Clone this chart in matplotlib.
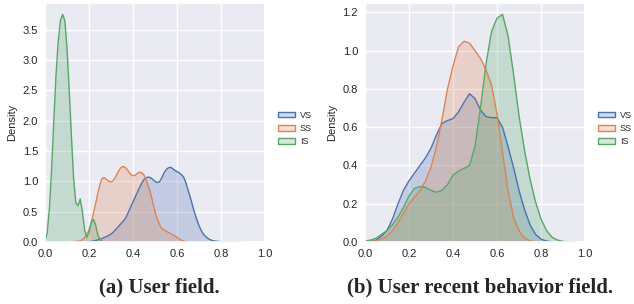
import numpy as np
import matplotlib
matplotlib.use("Agg")
import matplotlib.pyplot as plt
import seaborn as sns
from matplotlib.patches import Patch

# values (x, density)
user_x = [0.0, 0.01, 0.02, 0.03, 0.04, 0.05, 0.06, 0.07, 0.08, 0.09, 0.10, 0.11, 0.12, 0.13,
          0.14, 0.15, 0.16, 0.17, 0.18, 0.19, 0.20, 0.21, 0.22, 0.23, 0.24, 0.25, 0.26, 0.27,
          0.28, 0.29, 0.30, 0.31, 0.32, 0.33, 0.34, 0.35, 0.36, 0.37, 0.38, 0.39, 0.40, 0.41,
          0.42, 0.43, 0.44, 0.45, 0.46, 0.47, 0.48, 0.49, 0.50, 0.51, 0.52, 0.53, 0.54, 0.55,
          0.56, 0.57, 0.58, 0.59, 0.60, 0.61, 0.62, 0.63, 0.64, 0.65, 0.66, 0.67, 0.68, 0.69,
          0.70, 0.71, 0.72, 0.73, 0.74, 0.75, 0.76, 0.77, 0.78, 0.80, 0.83, 0.86, 0.89]
user_vs = [0, 0, 0, 0, 0, 0, 0, 0, 0, 0, 0, 0, 0, 0,
           0, 0, 0, 0, 0, 0, 0.005, 0.01, 0.015, 0.025, 0.035, 0.045, 0.06, 0.075,
           0.09, 0.11, 0.13, 0.16, 0.2, 0.24, 0.28, 0.32, 0.36, 0.42, 0.5, 0.58, 0.66, 0.74,
           0.82, 0.9, 0.97, 1.03, 1.06, 1.07, 1.06, 1.03, 1.0, 0.98, 0.99, 1.05, 1.13, 1.19,
           1.22, 1.23, 1.21, 1.18, 1.16, 1.14, 1.11, 1.07, 0.98, 0.86, 0.74, 0.61, 0.48, 0.37,
           0.27, 0.19, 0.13, 0.09, 0.06, 0.04, 0.025, 0.018, 0.012, 0.006, 0.003, 0.001, 0]
user_ss = [0, 0, 0, 0, 0, 0, 0, 0, 0, 0, 0, 0.002, 0.004, 0.006,
           0.008, 0.012, 0.02, 0.04, 0.07, 0.12, 0.2, 0.32, 0.47, 0.63, 0.8, 0.95, 1.05, 1.06,
           1.03, 1.0, 0.99, 1.01, 1.07, 1.14, 1.2, 1.24, 1.24, 1.21, 1.16, 1.11, 1.09, 1.1,
           1.13, 1.15, 1.14, 1.1, 1.02, 0.92, 0.8, 0.65, 0.5, 0.38, 0.29, 0.23, 0.2, 0.18,
           0.16, 0.14, 0.12, 0.1, 0.08, 0.05, 0.03, 0.015, 0.008, 0.003, 0, 0, 0, 0,
           0, 0, 0, 0, 0, 0, 0, 0, 0, 0, 0, 0, 0]
user_is = [0.02, 0.15, 0.55, 1.2, 2.0, 2.75, 3.3, 3.65, 3.75, 3.65, 3.2, 2.5, 1.75, 1.05,
           0.65, 0.6, 0.71, 0.5, 0.2, 0.08, 0.15, 0.32, 0.37, 0.28, 0.12, 0.04, 0.01, 0,
           0, 0, 0, 0, 0, 0, 0, 0, 0, 0, 0, 0, 0, 0,
           0, 0, 0, 0, 0, 0, 0, 0, 0, 0, 0, 0, 0, 0,
           0, 0, 0, 0, 0, 0, 0, 0, 0, 0, 0, 0, 0, 0,
           0, 0, 0, 0, 0, 0, 0, 0, 0, 0, 0, 0, 0]

recent_x = [0.0, 0.025, 0.05, 0.075, 0.10, 0.125, 0.15, 0.175, 0.20, 0.225, 0.25, 0.275,
            0.30, 0.325, 0.35, 0.375, 0.40, 0.425, 0.45, 0.475, 0.50, 0.525, 0.55, 0.575,
            0.60, 0.625, 0.65, 0.675, 0.70, 0.725, 0.75, 0.775, 0.80, 0.825, 0.85, 0.875,
            0.90, 0.95]
recent_vs = [0, 0.002, 0.01, 0.03, 0.06, 0.12, 0.2, 0.27, 0.32, 0.36, 0.4, 0.44,
             0.49, 0.56, 0.62, 0.635, 0.645, 0.68, 0.73, 0.775, 0.75, 0.69, 0.655, 0.65,
             0.65, 0.6, 0.5, 0.39, 0.27, 0.17, 0.09, 0.04, 0.015, 0.005, 0.001, 0,
             0, 0]
recent_ss = [0, 0.002, 0.006, 0.015, 0.03, 0.06, 0.1, 0.15, 0.2, 0.235, 0.27, 0.32,
             0.39, 0.5, 0.64, 0.8, 0.92, 1.02, 1.05, 1.04, 1.0, 0.96, 0.9, 0.82,
             0.67, 0.47, 0.27, 0.13, 0.06, 0.02, 0.006, 0.002, 0, 0, 0, 0,
             0, 0]
recent_is = [0.005, 0.01, 0.02, 0.04, 0.06, 0.09, 0.13, 0.18, 0.24, 0.28, 0.29, 0.285,
             0.27, 0.26, 0.27, 0.3, 0.35, 0.37, 0.385, 0.4, 0.5, 0.7, 0.93, 1.1,
             1.17, 1.19, 1.08, 0.88, 0.66, 0.48, 0.33, 0.21, 0.12, 0.06, 0.025, 0.01,
             0.003, 0]

labels = ["VS", "SS", "IS"]
captions = ["(a) User field.", "(b) User recent behavior field."]
yticks_user = [0.0, 0.5, 1.0, 1.5, 2.0, 2.5, 3.0, 3.5]
yticks_recent = [0.0, 0.2, 0.4, 0.6, 0.8, 1.0, 1.2]
xticks = [0.0, 0.2, 0.4, 0.6, 0.8, 1.0]

sns.set_theme(style="darkgrid")
plt.rcParams["font.family"] = ["Liberation Sans", "DejaVu Sans"]
colors = sns.color_palette("deep")[:3]

fig = plt.figure(figsize=(6.34, 3.04), dpi=100)
ax1 = fig.add_axes([45 / 634, 62 / 304, 220 / 634, 239 / 304])
ax2 = fig.add_axes([365 / 634, 62 / 304, 220 / 634, 239 / 304])

panels = [
    (ax1, user_x, [user_vs, user_ss, user_is], yticks_user),
    (ax2, recent_x, [recent_vs, recent_ss, recent_is], yticks_recent),
]

for i, (ax, xs, ys_list, yt) in enumerate(panels):
    top = 0
    for ys, c in zip(ys_list, colors):
        ax.fill_between(xs, ys, color=c, alpha=0.25, linewidth=0)
        ax.plot(xs, ys, color=c, linewidth=1)
        top = max(top, max(ys))
    ax.set_xlim(0, 1.0)
    ax.set_ylim(0, top * 1.05)
    ax.set_xticks(xticks)
    ax.set_yticks(yt)
    ax.yaxis.set_major_formatter(plt.FormatStrFormatter("%.1f"))
    ax.tick_params(labelsize=8, length=0, pad=5, colors="#262626")
    ax.set_ylabel("Density", fontsize=8, labelpad=4, color="#262626")
    handles = [Patch(facecolor=(*c, 0.25), edgecolor=c, linewidth=1) for c in colors]
    ax.legend(handles, labels, loc="center left", bbox_to_anchor=(1.06, 0.475),
              frameon=False, fontsize=6.5, handlelength=1.9, handleheight=0.55,
              labelspacing=0.45, handletextpad=0.5, borderaxespad=0, borderpad=0)
    fig.text(0.252 if i == 0 else 0.757, 17 / 304, captions[i], ha="center", va="center",
             fontsize=15, fontweight="bold", family="Liberation Serif")

fig.savefig("out.png", dpi=100)
